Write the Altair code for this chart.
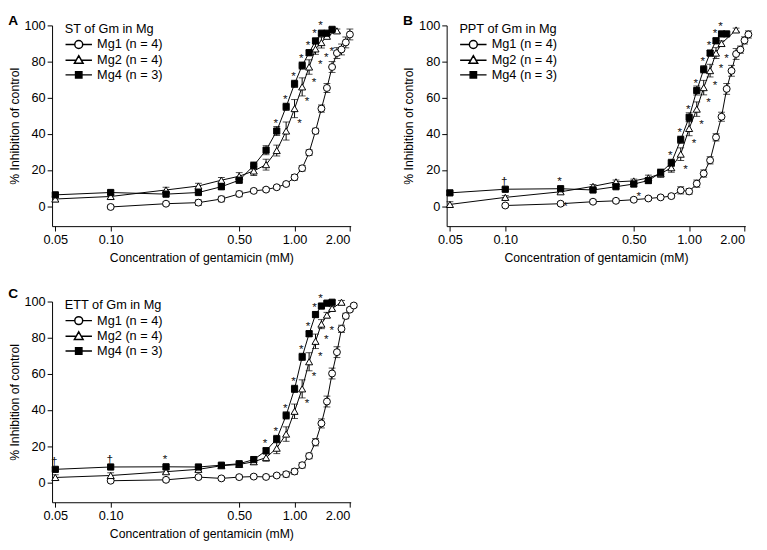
import altair as alt
import pandas as pd

N = None
CONC = [0.05, 0.1, 0.2, 0.3, 0.4, 0.5, 0.6, 0.7, 0.8, 0.9, 1.0, 1.1,
        1.2, 1.3, 1.4, 1.5, 1.6, 1.7, 1.8, 1.9, 2.0, 2.1]
SERIES = ["Mg1 (n = 4)", "Mg2 (n = 4)", "Mg4 (n = 3)"]
X_TICKS = [0.05, 0.1, 0.5, 1.0, 2.0]
Y_TICKS = [0, 20, 40, 60, 80, 100]

# ---- Panel A: ST of Gm in Mg ----
A_MG1 = [N, -0.4, 1.4, 2.0, 4.0, 6.8, 8.5, 9.2, 10.5, 12.3, 16.0, 21.0, 29.7, 41.6, 54.0, 65.4, 77.0, 84.7, 86.7, 90.6, 95.0, N]
A_MG2 = [4.0, 5.4, 9.0, 11.2, 14.4, 16.6, 19.5, 23.0, 30.8, 41.6, 54.0, 66.0, 77.0, 87.0, 90.5, 94.0, N, 97.0, N, N, N, N]
A_MG4 = [6.3, 7.6, 6.7, 7.6, 10.8, 14.4, 22.5, 31.0, 41.6, 55.0, 67.7, 77.8, 84.9, 91.4, 95.7, 95.7, 97.8, N, N, N, N, N]
A_ERR1 = [0, 1.0, 1.0, 1.5, 1.5, 1.5, 1.0, 1.0, 1.0, 1.0, 1.5, 1.5, 1.5, 1.5, 2.0, 2.5, 3.0, 3.0, 3.0, 3.0, 3.0, 0]
A_ERR2 = [1.5, 1.0, 1.5, 1.5, 1.5, 2.0, 2.5, 3.0, 3.0, 5.0, 5.0, 5.0, 4.0, 3.0, 3.0, 1.0, 0, 1.0, 0, 0, 0, 0]
A_ERR4 = [1.0, 1.0, 1.0, 1.0, 1.5, 1.5, 2.0, 2.5, 2.5, 2.0, 2.0, 2.0, 1.5, 1.5, 1.0, 1.0, 1.0, 0, 0, 0, 0, 0]
A_STAR_MG4 = [0.8, 0.9, 1.0, 1.1, 1.2, 1.3, 1.4]
A_STAR_MG2 = [1.0, 1.1, 1.2, 1.3, 1.4, 1.5]
A_DAG_MG4 = []

# ---- Panel B: PPT of Gm in Mg ----
B_MG1 = [N, 0.4, 1.4, 2.5, 3.0, 3.6, 4.3, 4.9, 5.6, 8.8, 8.2, 12.5, 18.1, 25.4, 38.1, 49.5, 64.9, 74.9, 84.2, 86.6, 91.7, 95.0]
B_MG2 = [1.0, 4.9, 8.0, 11.0, 13.5, 14.0, 15.7, 18.0, 21.3, 28.8, 43.0, 53.7, 65.6, 75.0, 84.7, 90.0, N, N, 97.5, N, N, N]
B_MG4 = [7.4, 9.4, 9.7, 9.0, 10.8, 12.3, 14.2, 18.6, 24.0, 36.8, 49.2, 64.0, 75.7, 84.7, 91.5, 95.3, 95.3, N, N, N, N, N]
B_ERR1 = [0, 1.0, 1.0, 1.0, 1.0, 1.0, 1.0, 1.0, 1.0, 2.0, 1.5, 2.0, 2.0, 2.0, 2.0, 2.5, 3.0, 3.0, 3.0, 2.0, 2.0, 2.0]
B_ERR2 = [1.5, 1.0, 1.0, 1.0, 1.0, 1.0, 1.5, 2.0, 2.5, 3.5, 4.0, 4.0, 4.0, 3.5, 3.0, 1.5, 0, 0, 1.0, 0, 0, 0]
B_ERR4 = [1.0, 1.0, 1.0, 1.0, 1.0, 1.5, 1.5, 2.0, 2.0, 2.0, 2.5, 2.5, 2.0, 1.5, 1.5, 1.0, 1.0, 0, 0, 0, 0, 0]
B_STAR_MG4 = [0.2, 0.8, 0.9, 1.0, 1.1, 1.2, 1.3, 1.4, 1.5]
B_STAR_MG2 = [0.2, 0.5, 0.9, 1.0, 1.1, 1.2, 1.3, 1.4, 1.5]
B_DAG_MG4 = [0.1]

# ---- Panel C: ETT of Gm in Mg ----
C_MG1 = [N, 0.9, 1.4, 2.9, 2.2, 2.9, 3.2, 3.0, 3.8, 4.5, 6.0, 9.5, 14.6, 22.2, 32.6, 44.7, 60.2, 72.0, 84.9, 92.0, 95.5, 97.8]
C_MG2 = [2.7, 3.8, 5.9, 7.2, 9.2, 9.9, 11.4, 13.7, 18.9, 26.7, 39.3, 51.7, 66.7, 78.0, 87.5, 92.5, 96.2, N, 99.6, N, N, N]
C_MG4 = [7.2, 8.5, 8.6, 8.5, 9.5, 10.3, 12.6, 17.5, 24.0, 37.0, 51.7, 69.4, 82.2, 92.8, 97.5, 99.1, 99.6, N, N, N, N, N]
C_ERR1 = [0, 1.0, 1.0, 1.0, 1.0, 1.0, 1.0, 1.0, 1.0, 1.5, 1.5, 1.5, 1.5, 2.0, 2.5, 3.0, 3.0, 3.0, 2.0, 1.5, 1.0, 1.0]
C_ERR2 = [1.5, 1.5, 1.0, 1.0, 1.0, 1.0, 1.5, 2.0, 3.0, 4.0, 4.0, 5.0, 5.0, 4.0, 2.5, 1.5, 1.0, 0, 1.0, 0, 0, 0]
C_ERR4 = [1.0, 1.0, 1.0, 1.0, 1.0, 1.0, 1.5, 1.5, 2.0, 2.0, 2.0, 2.0, 1.5, 1.5, 1.0, 1.0, 1.0, 0, 0, 0, 0, 0]
C_STAR_MG4 = [0.2, 0.7, 0.8, 0.9, 1.0, 1.1, 1.2, 1.3, 1.4]
C_STAR_MG2 = [1.1, 1.2, 1.3, 1.4, 1.5]
C_DAG_MG4 = [0.05, 0.1]

FONT = "Liberation Sans"
MARKER_SIZE = {"Mg1 (n = 4)": 50, "Mg2 (n = 4)": 52, "Mg4 (n = 3)": 40}

# legend symbols: marker with a line through it (path starts at the symbol's left edge)
LEG_CIRCLE = "M-1,0 L0.4,0 M1.6,0 L3,0 M1.6,0 A0.6,0.6 0 1 1 0.4,0 A0.6,0.6 0 1 1 1.6,0 Z"
LEG_TRI = "M-1,0 L0.62,0 M1.38,0 L3,0 M1,-0.68 L1.66,0.48 L0.34,0.48 Z"
LEG_SQ = "M-1,0 L0.52,0 M1.48,0 L3,0 M0.52,-0.48 L1.48,-0.48 L1.48,0.48 L0.52,0.48 Z"
LEG_SIZE = 182


def build_df(vals, errs):
    rows = []
    for s, v_list, e_list in zip(SERIES, vals, errs):
        for c, v, e in zip(CONC, v_list, e_list):
            if v is None:
                continue
            rows.append({"conc": c, "val": v, "lo": v - e, "hi": v + e,
                         "err": e, "series": s, "msize": MARKER_SIZE[s]})
    return pd.DataFrame(rows)


def mark_df(vals, conc_list, sym):
    rows = []
    for c in conc_list:
        i = CONC.index(c)
        if vals[i] is not None:
            rows.append({"conc": c, "val": vals[i], "sym": sym})
    return pd.DataFrame(rows, columns=["conc", "val", "sym"])


def panel(letter, legend_title, mg1, mg2, mg4, e1, e2, e4, star4, star2, dag4):
    df = build_df([mg1, mg2, mg4], [e1, e2, e4])
    ax_kw = dict(grid=False, tickSize=5, labelFontSize=13, titleFontSize=12.5,
                 labelFont=FONT, titleFont=FONT, titleFontWeight="normal",
                 labelColor="black", titleColor="black",
                 domainColor="black", tickColor="black")
    xenc = alt.X("conc:Q",
                 scale=alt.Scale(type="log", domain=[0.048, 2.02], nice=False),
                 axis=alt.Axis(values=X_TICKS, format=".2f",
                               title="Concentration of gentamicin (mM)",
                               labelPadding=3, titlePadding=5, **ax_kw))
    yenc = alt.Y("val:Q",
                 scale=alt.Scale(domain=[-11, 100], nice=False, zero=False),
                 axis=alt.Axis(values=Y_TICKS, title="% Inhibition of control",
                               labelPadding=2, titlePadding=3, **ax_kw))
    base = alt.Chart(df)
    errdf = base.transform_filter("datum.err > 0")
    rules = errdf.mark_rule(color="black", strokeWidth=1).encode(
        x=xenc, y=alt.Y("lo:Q"), y2="hi:Q")
    cap_lo = errdf.mark_tick(color="black", orient="horizontal", size=7, thickness=1).encode(
        x=xenc, y=alt.Y("lo:Q"))
    cap_hi = errdf.mark_tick(color="black", orient="horizontal", size=7, thickness=1).encode(
        x=xenc, y=alt.Y("hi:Q"))
    lines = base.mark_line(color="black", strokeWidth=1).encode(
        x=xenc, y=yenc, detail="series:N")
    points = base.mark_point(stroke="black", strokeWidth=1, opacity=1).encode(
        x=xenc, y=yenc,
        shape=alt.Shape("series:N", scale=alt.Scale(domain=SERIES, range=["circle", "triangle-up", "square"]), legend=None),
        fill=alt.Fill("series:N", scale=alt.Scale(domain=SERIES, range=["white", "white", "black"]), legend=None),
        size=alt.Size("msize:Q", scale=None, legend=None),
    )
    leg_kw = dict(title=legend_title, orient="none", legendX=13, legendY=-2,
                  titleFontWeight="normal", titleFontSize=13, titleFont=FONT,
                  labelFontSize=13, labelFont=FONT, titlePadding=1, rowPadding=0,
                  labelOffset=18, symbolSize=LEG_SIZE, labelColor="black", titleColor="black")
    legend_layer = base.transform_filter("false").mark_point(
        size=LEG_SIZE, stroke="black", strokeWidth=1, opacity=1).encode(
        shape=alt.Shape("series:N", scale=alt.Scale(domain=SERIES, range=[LEG_CIRCLE, LEG_TRI, LEG_SQ]),
                        legend=alt.Legend(**leg_kw)),
        fill=alt.Fill("series:N", scale=alt.Scale(domain=SERIES, range=["white", "white", "black"]),
                      legend=alt.Legend(**leg_kw)),
    )
    txt_kw = dict(color="#111111", font=FONT, fontSize=12, baseline="middle", align="center")
    above = pd.concat([mark_df(mg4, star4, "*"), mark_df(mg4, dag4, "\u2020")], ignore_index=True)
    stars_above = alt.Chart(above).mark_text(dy=-8, dx=-1, **txt_kw).encode(
        x=xenc, y=yenc, text="sym:N")
    stars_below = alt.Chart(mark_df(mg2, star2, "*")).mark_text(dy=15, dx=5, **txt_kw).encode(
        x=xenc, y=yenc, text="sym:N")
    layer = alt.layer(rules, cap_lo, cap_hi, lines, points, stars_above, stars_below,
                      legend_layer).resolve_scale(shape="independent", fill="independent")
    return layer.properties(
        width=305, height=205,
        title=alt.TitleParams(letter, anchor="start", frame="bounds", fontSize=14,
                              fontWeight="bold", font=FONT, offset=-9, color="black"))


pa = panel("A", "ST of Gm in Mg", A_MG1, A_MG2, A_MG4, A_ERR1, A_ERR2, A_ERR4, A_STAR_MG4, A_STAR_MG2, A_DAG_MG4)
pb = panel("B", "PPT of Gm in Mg", B_MG1, B_MG2, B_MG4, B_ERR1, B_ERR2, B_ERR4, B_STAR_MG4, B_STAR_MG2, B_DAG_MG4)
pc = panel("C", "ETT of Gm in Mg", C_MG1, C_MG2, C_MG4, C_ERR1, C_ERR2, C_ERR4, C_STAR_MG4, C_STAR_MG2, C_DAG_MG4)

chart = alt.vconcat(
    alt.hconcat(pa, pb, spacing=48),
    pc,
    spacing=23,
).properties(
    padding={"left": 0, "top": 0, "right": 5, "bottom": 5}
).configure_view(stroke=None)

chart.save("out.html", embed_options={"renderer": "svg", "actions": False})
